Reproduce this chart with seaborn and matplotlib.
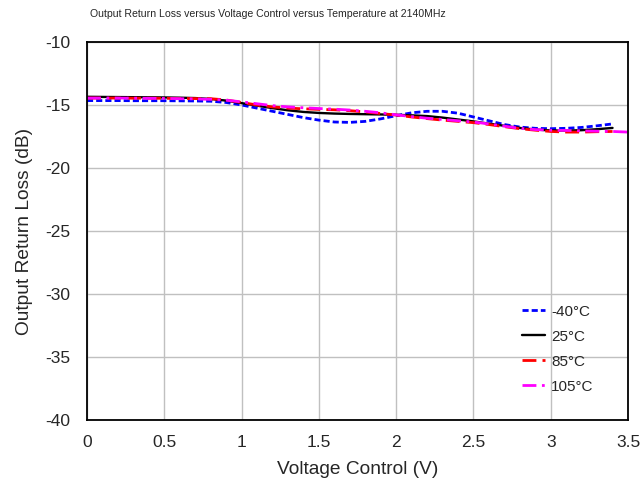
import numpy as np
import pandas as pd
import matplotlib
matplotlib.use("Agg")
import matplotlib.pyplot as plt
import seaborn as sns

# Voltage control sweep (V)
voltage = [0.0, 0.1, 0.2, 0.3, 0.4, 0.5, 0.6, 0.7, 0.8, 0.9,
           1.0, 1.1, 1.2, 1.3, 1.4, 1.5, 1.6, 1.7, 1.8, 1.9,
           2.0, 2.1, 2.2, 2.3, 2.4, 2.5, 2.6, 2.7, 2.8, 2.9,
           3.0, 3.1, 3.2, 3.3, 3.4]
voltage_105 = voltage + [3.5]

# Output return loss (dB) per temperature
rl_m40 = [-14.65, -14.65, -14.65, -14.66, -14.66, -14.66, -14.67, -14.68, -14.70, -14.80,
          -15.00, -15.25, -15.50, -15.75, -16.00, -16.20, -16.35, -16.38, -16.30, -16.10,
          -15.85, -15.62, -15.50, -15.50, -15.65, -15.95, -16.25, -16.55, -16.75, -16.85,
          -16.88, -16.85, -16.78, -16.65, -16.50]
rl_25 = [-14.35, -14.36, -14.37, -14.38, -14.39, -14.40, -14.42, -14.45, -14.52, -14.65,
         -14.85, -15.05, -15.25, -15.42, -15.55, -15.63, -15.68, -15.71, -15.73, -15.75,
         -15.78, -15.82, -15.88, -16.00, -16.15, -16.30, -16.48, -16.65, -16.82, -16.95,
         -17.02, -17.03, -17.00, -16.92, -16.82]
rl_85 = [-14.45, -14.45, -14.45, -14.46, -14.46, -14.47, -14.48, -14.49, -14.50, -14.60,
         -14.80, -15.00, -15.15, -15.25, -15.30, -15.35, -15.38, -15.45, -15.55, -15.68,
         -15.80, -15.95, -16.08, -16.20, -16.30, -16.40, -16.55, -16.72, -16.88, -17.00,
         -17.10, -17.15, -17.15, -17.12, -17.10]
rl_105 = [-14.45, -14.45, -14.45, -14.46, -14.47, -14.48, -14.50, -14.52, -14.55, -14.62,
          -14.75, -14.90, -15.05, -15.15, -15.22, -15.28, -15.33, -15.40, -15.50, -15.62,
          -15.78, -15.92, -16.05, -16.15, -16.25, -16.35, -16.50, -16.68, -16.85, -16.95,
          -17.00, -17.02, -17.05, -17.08, -17.10, -17.15]

labels = ["-40°C", "25°C", "85°C", "105°C"]
y_ticks = [-10, -15, -20, -25, -30, -35, -40]
x_ticks = [0, 0.5, 1, 1.5, 2, 2.5, 3, 3.5]

sns.set_style("white")
plt.rcParams["font.family"] = ["Liberation Sans", "DejaVu Sans"]
plt.rcParams["axes.unicode_minus"] = False

fig = plt.figure(figsize=(6.43, 4.84), dpi=100)
ax = fig.add_axes([87 / 643, 1 - 420 / 484, (628 - 87) / 643, (420 - 42) / 484])

series = [
    (voltage, rl_m40, labels[0], "#0000ff", (2.2, 1.1), 2.0),
    (voltage, rl_25, labels[1], "#000000", None, 1.7),
    (voltage, rl_85, labels[2], "#ff0000", (5, 2.2), 2.0),
    (voltage_105, rl_105, labels[3], "#ff00ff", (5, 2, 1, 2), 2.0),
]
for xs, ys, lab, col, dash, lw in series:
    df = pd.DataFrame({"V": xs, "RL": ys})
    line_ax = sns.lineplot(data=df, x="V", y="RL", ax=ax, color=col, lw=lw, label=lab)
    if dash is not None:
        line_ax.lines[-1].set_dashes(dash)

ax.set_xlim(0, 3.5)
ax.set_ylim(-40, -10)
ax.set_xticks(x_ticks)
ax.set_xticklabels([f"{t:g}" for t in x_ticks])
ax.set_yticks(y_ticks)
ax.set_yticklabels([str(t) for t in y_ticks])
ax.grid(True, color="#c0c0c0", lw=1.0)
ax.tick_params(axis="both", labelsize=12.5, length=0)
ax.tick_params(axis="x", pad=11)
ax.tick_params(axis="y", pad=12)

for side in ["left", "bottom", "right", "top"]:
    ax.spines[side].set_color("black")
    ax.spines[side].set_linewidth(1.3)

ax.set_xlabel("Voltage Control (V)", fontsize=13.8, labelpad=8)
ax.set_ylabel("Output Return Loss (dB)", fontsize=13.8, labelpad=9)
fig.text(267.5 / 643, 1 - 14 / 484,
         "Output Return Loss versus Voltage Control versus Temperature at 2140MHz",
         ha="center", va="center", fontsize=7.6)

leg = ax.legend(loc="upper left", bbox_to_anchor=(0.804, 0.305), frameon=False,
                borderpad=0, borderaxespad=0,
                fontsize=11, handlelength=1.5, handletextpad=0.4, labelspacing=0.72)

fig.savefig("out.png", dpi=100)
